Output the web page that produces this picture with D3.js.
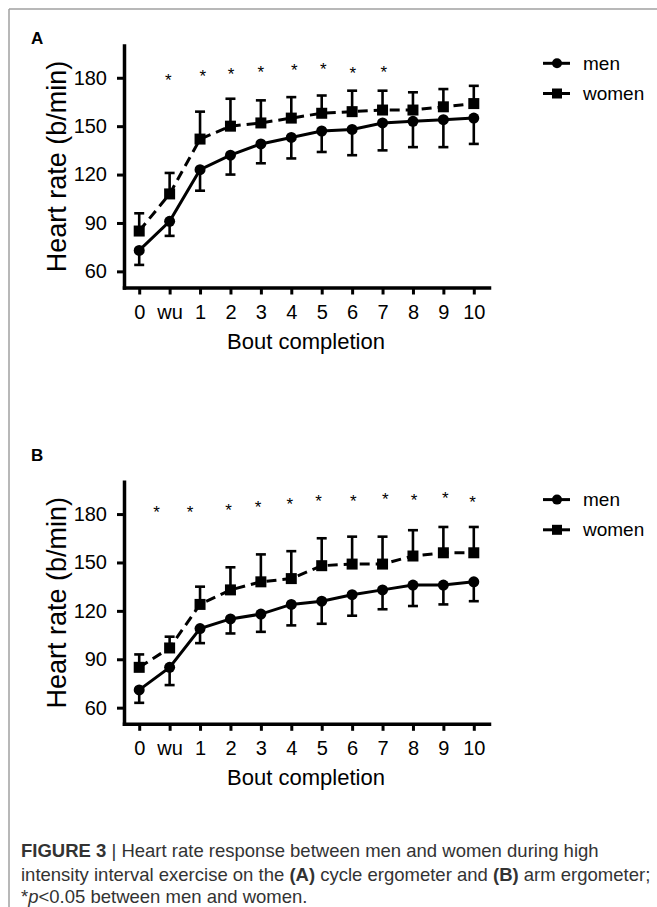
<!DOCTYPE html>
<html>
<head>
<meta charset="utf-8">
<script src="https://cdn.jsdelivr.net/npm/d3@7"></script>
<style>
  body { margin: 0; background: #fff; }
  svg text { font-family: "Liberation Sans", Arial, sans-serif; }
</style>
</head>
<body>
<svg width="657" height="907"></svg>
<script>
const cats = ["0", "wu", "1", "2", "3", "4", "5", "6", "7", "8", "9", "10"];
const yTicks = [60, 90, 120, 150, 180];

// panel A, cycle ergometer
const menA = [73, 91, 123, 132, 139, 143, 147, 148, 152, 153, 154, 155];
const menLowA = [64, 82, 110, 120, 127, 130, 134, 132, 135, 137, 137, 139];
const womenA = [85, 108, 142, 150, 152, 155, 158, 159, 160, 160, 162, 164];
const womenHighA = [96, 121, 159, 167, 166, 168, 169, 172, 172, 171, 173, 175];
const starPosA = [0.96, 2.09, 3.02, 4.0, 5.1, 6.05, 7.02, 8.04];
const starValA = [181, 183.4, 184.4, 185.9, 186.9, 187.5, 185.3, 185.9];

// panel B, arm ergometer
const menB = [71, 85, 109, 115, 118, 124, 126, 130, 133, 136, 136, 138];
const menLowB = [63, 74, 100, 106, 107, 111, 112, 117, 121, 123, 124, 126];
const womenB = [85, 97, 124, 133, 138, 140, 148, 149, 149, 154, 156, 156];
const womenHighB = [93, 104, 135, 147, 155, 157, 165, 166, 166, 170, 172, 172];
const starPosB = [0.57, 1.67, 2.94, 3.91, 4.95, 5.9, 7.04, 8.09, 9.04, 10.06, 10.96];
const starValB = [183.5, 183.5, 185.1, 186.6, 188.7, 190.3, 190.7, 191.8, 191.2, 192.4, 190.1];

const svg = d3.select("svg");

// figure frame
svg.append("line").attr("x1", 9).attr("y1", 9).attr("x2", 657).attr("y2", 9)
   .attr("stroke", "#a0a0a0").attr("stroke-width", 1.5);
svg.append("line").attr("x1", 9).attr("y1", 9).attr("x2", 9).attr("y2", 907)
   .attr("stroke", "#a0a0a0").attr("stroke-width", 1.5);

const xScale = d3.scalePoint().domain(cats).range([124, 489]).padding(0.5);
const idx = d3.scaleLinear().domain([0, 1]).range([xScale(cats[0]), xScale(cats[1])]);

function drawPanel(top, letter, letterY, men, menLow, women, womenHigh, starPos, starVal) {
  const g = svg.append("g").attr("transform", "translate(0," + top + ")");
  const yScale = d3.scaleLinear().domain([50, 200]).range([287.5, 45.5]);

  g.append("text")
   .attr("x", 31).attr("y", letterY)
   .style("font-size", "17px").style("font-weight", "bold")
   .text(letter);

  // error bars
  const capW = 5;
  men.forEach((v, i) => {
    const x = xScale(cats[i]);
    g.append("line").attr("x1", x).attr("x2", x)
     .attr("y1", yScale(v)).attr("y2", yScale(menLow[i]))
     .attr("stroke", "#000").attr("stroke-width", 2.6);
    g.append("line").attr("x1", x - capW).attr("x2", x + capW)
     .attr("y1", yScale(menLow[i])).attr("y2", yScale(menLow[i]))
     .attr("stroke", "#000").attr("stroke-width", 2.6);
  });
  women.forEach((v, i) => {
    const x = xScale(cats[i]);
    g.append("line").attr("x1", x).attr("x2", x)
     .attr("y1", yScale(v)).attr("y2", yScale(womenHigh[i]))
     .attr("stroke", "#000").attr("stroke-width", 2.6);
    g.append("line").attr("x1", x - capW).attr("x2", x + capW)
     .attr("y1", yScale(womenHigh[i])).attr("y2", yScale(womenHigh[i]))
     .attr("stroke", "#000").attr("stroke-width", 2.6);
  });

  const line = d3.line().x((d, i) => xScale(cats[i])).y((d) => yScale(d));

  g.append("path").datum(women)
   .attr("d", line).attr("fill", "none").attr("stroke", "#000")
   .attr("stroke-width", 3).attr("stroke-dasharray", "10,6");
  g.append("path").datum(men)
   .attr("d", line).attr("fill", "none").attr("stroke", "#000")
   .attr("stroke-width", 3);

  g.selectAll(".sq").data(women).enter().append("rect")
   .attr("x", (d, i) => xScale(cats[i]) - 5.5)
   .attr("y", (d) => yScale(d) - 5.5)
   .attr("width", 11).attr("height", 11).attr("fill", "#000");
  g.selectAll(".ci").data(men).enter().append("circle")
   .attr("cx", (d, i) => xScale(cats[i]))
   .attr("cy", (d) => yScale(d))
   .attr("r", 5.5).attr("fill", "#000");

  // significance stars
  g.selectAll(".star").data(starPos).enter().append("text")
   .attr("x", (d) => idx(d))
   .attr("y", (d, i) => yScale(starVal[i]))
   .attr("dy", "0.575em")
   .attr("text-anchor", "middle")
   .style("font-size", "17px")
   .text("*");

  // axes
  const xAxis = g.append("g")
   .attr("transform", "translate(0," + yScale(50) + ")")
   .call(d3.axisBottom(xScale).tickSize(7).tickPadding(10).tickSizeOuter(0));
  const yAxis = g.append("g")
   .attr("transform", "translate(124,0)")
   .call(d3.axisLeft(yScale).tickValues(yTicks).tickSize(7).tickPadding(10).tickSizeOuter(0));
  [xAxis, yAxis].forEach((a) => {
    a.select(".domain").attr("stroke-width", 3.5).attr("stroke-linecap", "square");
    a.selectAll(".tick line").attr("stroke-width", 3);
    a.selectAll(".tick text").style("font-size", "20px").attr("fill", "#000")
     .style("font-family", "'Liberation Sans', Arial, sans-serif");
  });

  g.append("text")
   .attr("transform", "translate(66," + (yScale(50) + yScale(200)) / 2 + ") rotate(-90)")
   .attr("text-anchor", "middle")
   .style("font-size", "27px")
   .text("Heart rate (b/min)");

  g.append("text")
   .attr("x", 306).attr("y", 349)
   .attr("text-anchor", "middle")
   .style("font-size", "22px")
   .text("Bout completion");

  // legend
  const leg = [{ name: "men", y: 63.3, shape: "circle" }, { name: "women", y: 93.5, shape: "square" }];
  leg.forEach((l) => {
    g.append("line").attr("x1", 543).attr("x2", 570).attr("y1", l.y).attr("y2", l.y)
     .attr("stroke", "#000").attr("stroke-width", 3);
    if (l.shape === "circle") {
      g.append("circle").attr("cx", 557).attr("cy", l.y).attr("r", 5).attr("fill", "#000");
    } else {
      g.append("rect").attr("x", 552).attr("y", l.y - 5).attr("width", 10).attr("height", 10).attr("fill", "#000");
    }
    g.append("text").attr("x", 583).attr("y", l.y).attr("dy", "0.35em")
     .style("font-size", "19px").text(l.name);
  });
}

drawPanel(0, "A", 43.5, menA, menLowA, womenA, womenHighA, starPosA, starValA);
drawPanel(436.3, "B", 24.7, menB, menLowB, womenB, womenHighB, starPosB, starValB);

// caption
const cap = svg.append("text").style("font-size", "18.5px").attr("fill", "#333");
const l1 = cap.append("tspan").attr("x", 21).attr("y", 857);
l1.append("tspan").style("font-weight", "bold").text("FIGURE 3");
l1.append("tspan").text(" | Heart rate response between men and women during high");
const l2 = cap.append("tspan").attr("x", 21).attr("y", 881);
l2.append("tspan").text("intensity interval exercise on the ");
l2.append("tspan").style("font-weight", "bold").text("(A)");
l2.append("tspan").text(" cycle ergometer and ");
l2.append("tspan").style("font-weight", "bold").text("(B)");
l2.append("tspan").text(" arm ergometer;");
const l3 = cap.append("tspan").attr("x", 21).attr("y", 903);
l3.append("tspan").text("*");
l3.append("tspan").style("font-style", "italic").text("p");
l3.append("tspan").text("<0.05 between men and women.");
</script>
</body>
</html>
